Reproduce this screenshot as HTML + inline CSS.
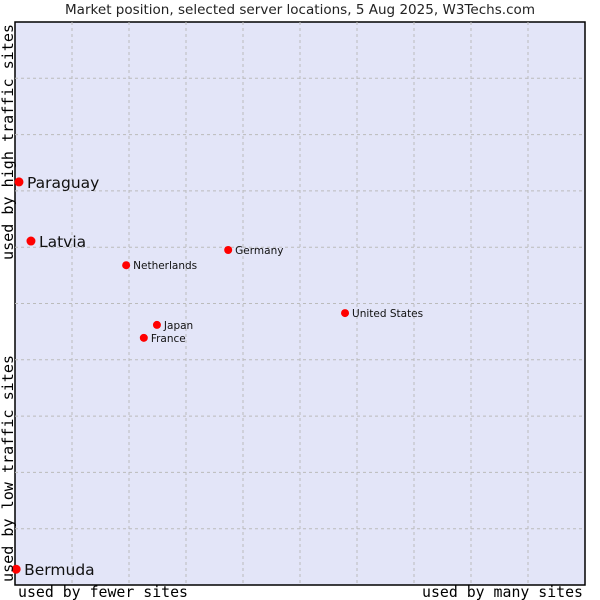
<!DOCTYPE html>
<html><head><meta charset="utf-8"><style>
body{margin:0;background:#fff;}
svg{display:block;}
</style></head><body>
<svg id="chart" width="600" height="600" xmlns="http://www.w3.org/2000/svg">
<text x="65" y="14" textLength="470" lengthAdjust="spacingAndGlyphs" font-family="DejaVu Sans, sans-serif" font-size="13.5" fill="#222">Market position, selected server locations, 5 Aug 2025, W3Techs.com</text>
<rect x="15" y="22" width="570" height="563" fill="#e3e5f8" stroke="#000" stroke-width="1.5"/>
<g id="grid"></g>
<g id="points"></g>
<text x="18" y="597" textLength="170" lengthAdjust="spacingAndGlyphs" font-family="DejaVu Sans Mono, monospace" font-size="15" fill="#000">used by fewer sites</text>
<text x="422" y="597" textLength="161" lengthAdjust="spacingAndGlyphs" font-family="DejaVu Sans Mono, monospace" font-size="15" fill="#000">used by many sites</text>
<text transform="translate(13,260) rotate(-90)" textLength="236" lengthAdjust="spacingAndGlyphs" font-family="DejaVu Sans Mono, monospace" font-size="15" fill="#000">used by high traffic sites</text>
<text transform="translate(13,582) rotate(-90)" textLength="227" lengthAdjust="spacingAndGlyphs" font-family="DejaVu Sans Mono, monospace" font-size="15" fill="#000">used by low traffic sites</text>
</svg>
<script>
const names=["Paraguay","Latvia","Netherlands","Germany","United States","Japan","France","Bermuda"];
const xVals=[0.7,2.8,19.5,37.4,57.9,24.9,22.6,0.2];
const yVals=[71.6,61.1,56.8,59.5,48.3,46.2,43.9,2.8];
const bigLabel=[true,true,false,false,false,false,false,true];
const L=15,R=585,T=22,B=585;
const sx=v=>L+v/100*(R-L);
const sy=v=>B-v/100*(B-T);
const NS="http://www.w3.org/2000/svg";
const grid=document.getElementById('grid');
for(let i=1;i<10;i++){
  const v=document.createElementNS(NS,'line');
  
  
  v.setAttribute('x1',sx(i*10));v.setAttribute('x2',sx(i*10));v.setAttribute('y1',T);v.setAttribute('y2',B);
  v.setAttribute('stroke','#bbb');v.setAttribute('stroke-dasharray','3,3');
  grid.appendChild(v);
  const h=document.createElementNS(NS,'line');
  
  
  h.setAttribute('x1',L);h.setAttribute('x2',R);h.setAttribute('y1',sy(i*10));h.setAttribute('y2',sy(i*10));
  h.setAttribute('stroke','#bbb');h.setAttribute('stroke-dasharray','3,3');
  grid.appendChild(h);
}
const pts=document.getElementById('points');
names.forEach((n,i)=>{
  const x=sx(xVals[i]),y=sy(yVals[i]);
  const c=document.createElementNS(NS,'circle');
  
  
  c.setAttribute('cx',x);c.setAttribute('cy',y);c.setAttribute('r',bigLabel[i]?4.5:4);c.setAttribute('fill','#f00');
  pts.appendChild(c);
  const t=document.createElementNS(NS,'text');
  
  
  t.setAttribute('x',x+(bigLabel[i]?8:7));t.setAttribute('y',y+(bigLabel[i]?6:4));
  t.setAttribute('font-family','DejaVu Sans, sans-serif');
  t.setAttribute('font-size',bigLabel[i]?'15.5':'10.5');
  t.setAttribute('fill','#111');
  t.textContent=n;
  pts.appendChild(t);
});
</script>
</body></html>
